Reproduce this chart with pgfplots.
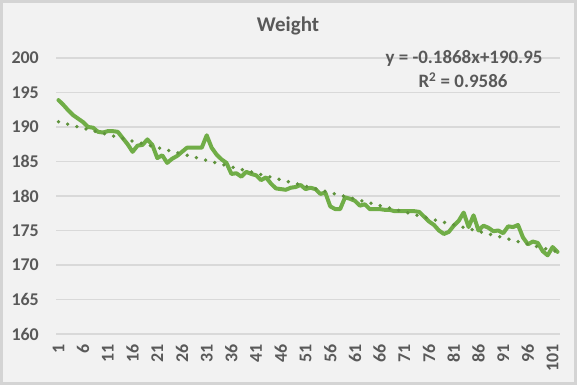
\documentclass[border=0pt]{standalone}
\usepackage{pgfplots}
\pgfplotsset{compat=1.18}
\usepackage{fontspec}
\setmainfont{Carlito}
\definecolor{lgreen}{HTML}{70AD47}
\definecolor{bgc}{HTML}{F2F2F2}
\definecolor{framec}{HTML}{D4D4D4}
\definecolor{gridc}{HTML}{D9D9D9}
\definecolor{txt}{HTML}{595959}
\begin{document}
\begin{tikzpicture}[x=1bp,y=1bp]
\fill[bgc] (0,0) rectangle (577,385);
\draw[framec, line width=3bp] (1.5,1.5) rectangle (575.5,383.5);
\begin{axis}[
  at={(56bp,51bp)}, anchor=south west,
  width=504bp, height=276bp, scale only axis,
  xmin=0.5, xmax=102.5, ymin=160, ymax=200,
  axis line style={draw=none},
  ytick={160,165,...,200},
  xtick={1,6,...,101},
  major tick length=0pt,
  ymajorgrids,
  grid style={gridc, line width=1.5bp},
  /pgf/number format/assume math mode=true,
  yticklabel style={font=\fontsize{18}{18}\selectfont\bfseries, text=txt, anchor=east, inner sep=0pt, xshift=-17bp},
  xticklabel style={font=\fontsize{18}{18}\selectfont\bfseries, text=txt, yshift=-10bp, rotate=90, anchor=east, inner sep=0pt},
  clip=false,
]
\addplot[lgreen, line width=4bp, line join=round, line cap=round, mark=none] coordinates {
(1,193.9) (2,193.2) (3,192.4) (4,191.7) (5,191.2) (6,190.7) (7,190.0) (8,189.9) (9,189.3) (10,189.2)
(11,189.4) (12,189.4) (13,189.3) (14,188.4) (15,187.5) (16,186.4) (17,187.3) (18,187.4) (19,188.2) (20,187.4)
(21,185.5) (22,185.9) (23,184.8) (24,185.4) (25,185.8) (26,186.4) (27,187.0) (28,187.0) (29,187.0) (30,187.0)
(31,188.8) (32,187.0) (33,186.0) (34,185.3) (35,184.8) (36,183.2) (37,183.3) (38,182.8) (39,183.5) (40,183.2)
(41,183.0) (42,182.3) (43,182.7) (44,181.8) (45,181.1) (46,181.0) (47,180.9) (48,181.2) (49,181.3) (50,181.6)
(51,181.0) (52,181.2) (53,181.0) (54,180.3) (55,180.5) (56,178.5) (57,178.1) (58,178.1) (59,179.8) (60,179.6)
(61,179.3) (62,178.6) (63,178.8) (64,178.1) (65,178.1) (66,178.1) (67,178.0) (68,178.0) (69,177.8) (70,177.8)
(71,177.8) (72,177.8) (73,177.8) (74,177.7) (75,177.0) (76,176.3) (77,175.8) (78,175.0) (79,174.5) (80,174.8)
(81,175.7) (82,176.4) (83,177.6) (84,175.5) (85,177.2) (86,175.0) (87,175.7) (88,175.4) (89,174.9) (90,175.0)
(91,174.6) (92,175.6) (93,175.5) (94,175.8) (95,174.0) (96,173.0) (97,173.4) (98,173.2) (99,172.0) (100,171.4)
(101,172.6) (102,171.9)
};
\addplot[lgreen!85!black, line width=3.8bp, line cap=round, dash pattern=on 0pt off 9.5bp, mark=none] coordinates {
(1,190.76) (102,171.90)
};
\end{axis}
\node[text=txt, font=\fontsize{21}{21}\selectfont\bfseries] at (288,359) {Weight};
\node[text=txt, font=\fontsize{19}{19}\selectfont\bfseries] at (464,327) {y = -0.1868x+190.95};
\node[text=txt, font=\fontsize{19}{19}\selectfont\bfseries] at (463,305) {R\textsuperscript{2} = 0.9586};
\end{tikzpicture}
\end{document}
